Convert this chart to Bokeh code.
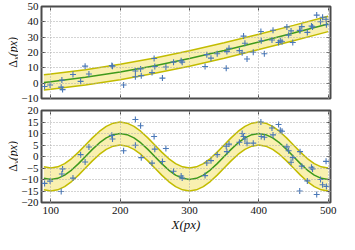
import math
from bokeh.plotting import figure
from bokeh.layouts import column, row
from bokeh.models import LinearAxis, FixedTicker, Range1d
from bokeh.core.properties import value
from bokeh.embed import file_html
from bokeh.resources import INLINE

# ---- data ----
x_pts = [91, 99, 115, 116, 117, 132, 143, 149.5, 155, 188, 189, 205, 222, 222,
         229.5, 230.5, 246, 249, 250, 261, 266, 277, 288, 289.5, 322.5, 325,
         331, 340, 353, 354, 357, 372, 376, 378, 380, 383, 392, 403, 403.5,
         408, 419, 420.5, 428.5, 431, 433.5, 440.5, 443, 446.5, 449, 459,
         459.5, 462, 470, 476, 477.5, 483.5, 489, 492, 497, 497.5]
dx_pts = [-2.2, -1.2, -2.6, 2.0, -4.2, 5.7, 1.2, 11.1, 6.0, 11.5, 11.0, -1.2,
          7.9, 4.2, 9.3, 4.9, 6.9, 16.1, 10.9, 3.3, 10.5, 13.7, 14.6, 13.7,
          10.9, 18.6, 16.3, 19.2, 9.7, 20.6, 22.8, 21.2, 19.8, 30.7, 26.0,
          15.8, 20.2, 33.7, 27.7, 19.2, 28.2, 34.5, 26.5, 27.6, 27.0, 36.7,
          31.3, 34.1, 26.5, 34.5, 34.3, 36.9, 33.1, 37.3, 36.7, 44.4, 40.1,
          43.0, 41.7, 38.1]
dy_pts = [-11.7, -10.7, -15.2, -7.6, -5.4, -9.4, 0.8, -2.4, 4.1, 9.2, 7.6,
          2.5, 16.1, 4.9, 13.4, -0.5, -2.9, 8.7, 3.2, -2.2, 3.5, -6.4, -8.5,
          -9.4, -8.3, -2.8, -1.8, 0.8, 4.5, 2.1, 5.4, 6.2, 10.0, 8.7, 7.6, 5.8,
          5.8, 15.0, 8.7, 8.4, 12.4, 9.4, 13.9, 11.4, 11.0, 4.2, 2.5, -2.5,
          -0.5, -15.0, 2.1, -4.2, -10.6, -4.7, -5.4, -16.5, -10.0, -12.3,
          -2.1, -13.0]

fit_x_top = [90, 100, 150, 200, 250, 300, 350, 400, 450, 500]
fit_dx = [0.5, 1.0, 3.8, 7.3, 11.4, 16.1, 21.3, 26.9, 32.7, 38.6]

fit_x_bot = [90, 100, 110, 120, 130, 140, 150, 160, 170, 180, 190, 200, 210,
             220, 230, 240, 250, 260, 270, 280, 290, 300, 310, 320, 330, 340,
             350, 360, 370, 380, 390, 400, 410, 420, 430, 440, 450, 460, 470,
             480, 490, 500]
fit_dy = [-9.5, -10, -9.5, -8.1, -5.9, -3.1, 0, 3.1, 5.9, 8.1, 9.5, 10, 9.5,
          8.1, 5.9, 3.1, 0, -3.1, -5.9, -8.1, -9.5, -10, -9.5, -8.1, -5.9,
          -3.1, 0, 3.1, 5.9, 8.1, 9.5, 10, 9.5, 8.1, 5.9, 3.1, 0, -3.1, -5.9,
          -8.1, -9.5, -10]
band_halfwidth = 5.0

x_ticks = [100, 200, 300, 400, 500]
dx_ticks = [-10, 0, 10, 20, 30, 40, 50]
dy_ticks = [-20, -15, -10, -5, 0, 5, 10, 15, 20]
x_limits = (86.6, 503.4)
dx_limits = (-10, 50)
dy_limits = (-20, 20)
y_label_subs = ["x", "y"]
x_label = "X(px)"

# ---- layout / style ----
FONT = "Liberation Serif"
FRAME = "#4a4a4a"
BLUE = "#4a78b8"
GREEN = "#3f9a1c"
EDGE = "#c2bc00"
FILL = "#f9f0b0"
GRID = "#a8a8a8"
TXT = "#111111"

TOTAL_W, TOTAL_H = 339, 234
LAB_W = 18
W = TOTAL_W - LAB_W
B_LEFT, B_RIGHT = 20, 9
FRAME_H = 92
TOP_H = 6 + FRAME_H + 6
BOT_H = 6 + FRAME_H + 32


def minus(v):
    return ("\u2212" + str(-v)) if v < 0 else str(v)


def style_axis(ax, ticks, labels):
    ax.ticker = FixedTicker(ticks=ticks)
    ax.major_tick_in = 4
    ax.major_tick_out = 0
    ax.minor_tick_in = 0
    ax.minor_tick_out = 0
    ax.major_tick_line_color = FRAME
    ax.major_tick_line_width = 1
    ax.axis_line_color = None
    if labels:
        ax.major_label_text_font = FONT
        ax.major_label_text_font_size = "11px"
        ax.major_label_text_color = TXT
        ax.major_label_standoff = 3
        ax.major_label_overrides = {t: minus(t) for t in ticks}
    else:
        ax.major_label_text_font_size = "1px"
        ax.major_label_text_color = None
        ax.major_label_standoff = 0


def make_panel(height, ylim, yticks, btop, bbottom, xlabels, fx, fy, pts_y):
    p = figure(width=W, height=height, x_range=Range1d(*x_limits),
               y_range=Range1d(*ylim), output_backend="svg",
               toolbar_location=None, min_border_left=B_LEFT,
               min_border_right=B_RIGHT, min_border_top=btop,
               min_border_bottom=bbottom)
    p.background_fill_color = "white"
    p.border_fill_color = "white"
    p.outline_line_color = FRAME
    p.outline_line_width = 2

    style_axis(p.below[0], x_ticks, xlabels)
    style_axis(p.left[0], yticks, True)
    top_ax = LinearAxis()
    style_axis(top_ax, x_ticks, False)
    p.add_layout(top_ax, "above")
    right_ax = LinearAxis()
    style_axis(right_ax, yticks, False)
    p.add_layout(right_ax, "right")

    for g, t in ((p.xgrid[0], x_ticks), (p.ygrid[0], yticks)):
        g.ticker = FixedTicker(ticks=t)
        g.grid_line_color = GRID
        g.grid_line_dash = "1 2"
        g.grid_line_width = 1
        g.level = "overlay"

    lower = [v - band_halfwidth for v in fy]
    upper = [v + band_halfwidth for v in fy]
    p.varea(x=fx, y1=lower, y2=upper, fill_color=FILL, fill_alpha=1.0)
    p.line(fx, lower, line_color=EDGE, line_width=1.5)
    p.line(fx, upper, line_color=EDGE, line_width=1.5)
    p.line(fx, fy, line_color=GREEN, line_width=1.5)
    p.scatter(x_pts, pts_y, marker="cross", size=6, line_color=BLUE,
              line_width=1.1)
    return p


p1 = make_panel(TOP_H, dx_limits, dx_ticks, 6, 6, False, fit_x_top, fit_dx,
                dx_pts)
p2 = make_panel(BOT_H, dy_limits, dy_ticks, 6, 32, True, fit_x_bot, fit_dy,
                dy_pts)
xa = p2.below[0]
xa.axis_label = x_label
xa.axis_label_text_font = FONT
xa.axis_label_text_font_style = "italic"
xa.axis_label_text_font_size = "13px"
xa.axis_label_text_color = TXT
xa.axis_label_standoff = 0
xa.major_label_standoff = 4

# ---- strip holding the rotated y-axis labels (pixel coordinates) ----
lab = figure(width=LAB_W, height=TOTAL_H, x_range=Range1d(0, LAB_W),
             y_range=Range1d(0, TOTAL_H), output_backend="svg",
             toolbar_location=None, x_axis_location=None,
             y_axis_location=None, min_border=0)
lab.outline_line_color = None
lab.xgrid.visible = False
lab.ygrid.visible = False
centers = [TOTAL_H - (6 + FRAME_H / 2),
           TOTAL_H - (TOP_H + 6 + FRAME_H / 2)]
base_x = 12.5
rot = math.pi / 2
for c, sub in zip(centers, y_label_subs):
    lab.text(x=[base_x], y=[c - 7.5], text=["\u0394"], angle=rot,
             text_align="right", text_baseline="alphabetic",
             text_font=value(FONT), text_font_size="12px", text_color=TXT)
    lab.text(x=[base_x + 2.5], y=[c - 7.5], text=[sub], angle=rot,
             text_align="left", text_baseline="alphabetic",
             text_font=value(FONT), text_font_style="italic",
             text_font_size="8.5px", text_color=TXT)
    lab.text(x=[base_x], y=[c - 3.7], text=["(px)"], angle=rot,
             text_align="left", text_baseline="alphabetic",
             text_font=value(FONT), text_font_style="italic",
             text_font_size="12px", text_color=TXT)

layout = row(lab, column(p1, p2, spacing=0), spacing=0)
open("out.html", "w").write(file_html(layout, INLINE))
